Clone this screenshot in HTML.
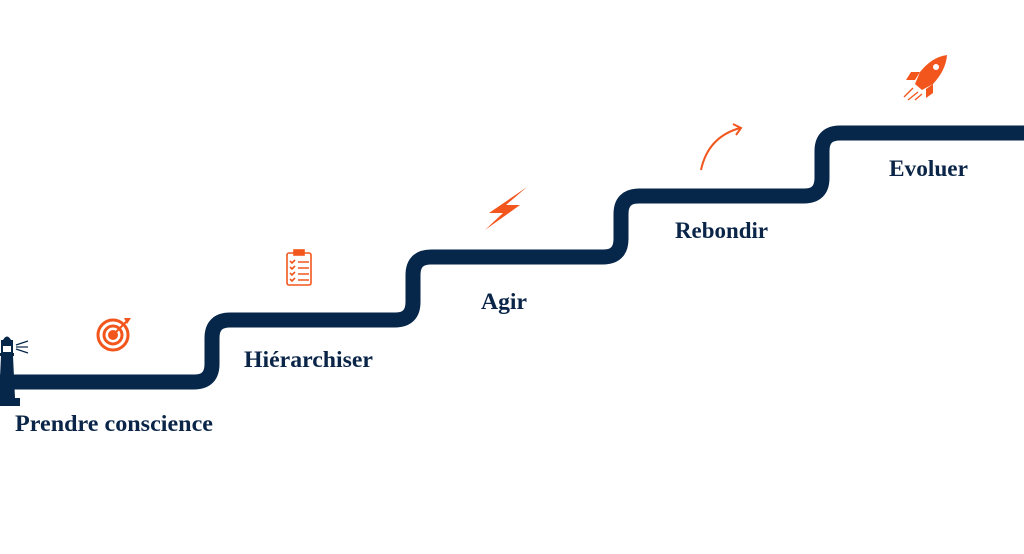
<!DOCTYPE html>
<html><head><meta charset="utf-8"><style>
html,body{margin:0;padding:0;background:#fff;width:1024px;height:554px;overflow:hidden}
svg{display:block}
text{font-family:"Liberation Serif",serif;font-weight:bold;fill:#0a2548;font-size:23.5px}
</style></head><body>
<svg width="1024" height="554" viewBox="0 0 1024 554">
<path d="M0 382 H194 Q212 382 212 364 V338 Q212 320 230 320 H395 Q413 320 413 302 V275 Q413 257 431 257 H603 Q621 257 621 239 V214 Q621 196 639 196 H804 Q822 196 822 178 V151 Q822 133 840 133 H1024" fill="none" stroke="#06264a" stroke-width="15"/>
<g fill="#06264a">
<path d="M3 340 Q7 333 11 340 Z"/><rect x="1" y="340" width="12" height="4"/>
<rect x="2" y="345" width="10" height="8" fill="none" stroke="#06264a" stroke-width="2"/>
<rect x="0" y="353" width="14" height="3"/>
<path d="M1 356 H13 L15 398 H-1 Z"/>
<rect x="-2" y="398" width="22" height="8"/>
</g>
<g stroke="#06264a" stroke-width="1.2"><line x1="16" y1="345" x2="28" y2="341"/><line x1="16" y1="347" x2="28" y2="347"/><line x1="16" y1="349" x2="28" y2="353"/></g>
<g fill="none" stroke="#f2561d" stroke-width="3"><circle cx="113" cy="335" r="15"/><circle cx="113" cy="335" r="9"/><circle cx="113" cy="335" r="3.5" fill="#f2561d"/></g>
<path d="M113 335 L127 321" stroke="#f2561d" stroke-width="2"/><path d="M124 318 L131 318 L127 324 Z" fill="#f2561d"/>
<g stroke="#f2561d" fill="none" stroke-width="1.6"><rect x="287" y="253" width="24" height="32" rx="2"/><rect x="294" y="250" width="10" height="5" fill="#f2561d"/>
<path d="M290 261 l2 2 3-3 M290 267 l2 2 3-3 M290 273 l2 2 3-3 M290 279 l2 2 3-3"/>
<path d="M298 262 H309 M298 268 H309 M298 274 H309 M298 280 H309"/></g>
<path d="M527 187 L489 213 L503 213 L485 230 L520 205 L506 205 Z" fill="#f2561d"/>
<path d="M701 170 Q708 137 740 128" fill="none" stroke="#f2561d" stroke-width="2"/>
<path d="M733 124 L741 128 L736 135" fill="none" stroke="#f2561d" stroke-width="2"/>
<g fill="#f2561d"><path d="M947 55 Q932 57 920 72 L915 84 L922 90 L933 84 Q946 70 947 55 Z"/>
<path d="M920 72 L911 72 L906 80 L915 80 Z"/><path d="M933 84 L933 93 L926 98 L926 89 Z"/></g>
<circle cx="936" cy="67" r="3" fill="#fff"/>
<g stroke="#f2561d" stroke-width="1.3"><line x1="913" y1="88" x2="904" y2="97"/><line x1="918" y1="92" x2="908" y2="100"/><line x1="922" y1="94" x2="915" y2="100"/></g>
<text x="15" y="431" textLength="198" lengthAdjust="spacingAndGlyphs">Prendre conscience</text>
<text x="244" y="367" textLength="129" lengthAdjust="spacingAndGlyphs">Hiérarchiser</text>
<text x="481" y="309" textLength="46" lengthAdjust="spacingAndGlyphs">Agir</text>
<text x="675" y="238" textLength="93" lengthAdjust="spacingAndGlyphs">Rebondir</text>
<text x="889" y="176" textLength="79" lengthAdjust="spacingAndGlyphs">Evoluer</text>
</svg>
</body></html>
